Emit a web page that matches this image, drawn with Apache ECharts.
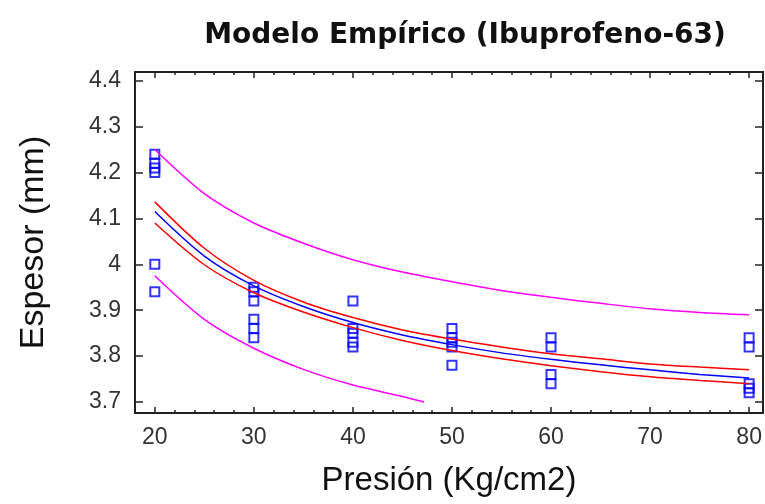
<!DOCTYPE html>
<html>
<head>
<meta charset="utf-8">
<script src="https://cdn.jsdelivr.net/npm/echarts@6/dist/echarts.min.js"></script>
<style>
  html, body { margin: 0; background: #fff; }
  #chart { width: 765px; height: 504px; }
</style>
</head>
<body>
<div id="chart"></div>
<script>
// ticks
const presionTicks = [20, 30, 40, 50, 60, 70, 80];
const presionMinor = [22, 24, 26, 28, 32, 34, 36, 38, 42, 44, 46, 48, 52, 54, 56, 58, 62, 64, 66, 68, 72, 74, 76, 78];
const espesorTicks = [3.7, 3.8, 3.9, 4.0, 4.1, 4.2, 4.3, 4.4];

// observaciones
const obsPresion = [20, 30, 40, 50, 60, 80];
const obsEspesor = [
  [4.24, 4.22, 4.21, 4.20, 4.00, 3.94],
  [3.95, 3.94, 3.92, 3.88, 3.86, 3.84],
  [3.92, 3.86, 3.85, 3.83, 3.82],
  [3.86, 3.84, 3.83, 3.82, 3.78],
  [3.84, 3.82, 3.76, 3.74],
  [3.84, 3.82, 3.74, 3.73, 3.72]
];

// curvas
const curvaX   = [20, 25, 30, 35, 40, 45, 50, 55, 60, 65, 70, 75, 80];
const ajuste   = [4.115, 4.018, 3.953, 3.908, 3.873, 3.846, 3.825, 3.807, 3.793, 3.781, 3.77, 3.76, 3.752];
const confSup  = [4.136, 4.035, 3.965, 3.918, 3.884, 3.857, 3.837, 3.82, 3.805, 3.794, 3.783, 3.776, 3.77];
const confInf  = [4.09, 3.999, 3.938, 3.896, 3.862, 3.834, 3.812, 3.794, 3.779, 3.766, 3.755, 3.747, 3.74];
const predSup  = [4.25, 4.154, 4.09, 4.046, 4.01, 3.983, 3.962, 3.943, 3.928, 3.915, 3.903, 3.895, 3.89];
const predInfX = [20, 25, 30, 35, 40, 45, 47.2];
const predInf  = [3.975, 3.88, 3.817, 3.771, 3.737, 3.712, 3.70];

const puntos = [];
obsPresion.forEach((p, i) => obsEspesor[i].forEach(v => puntos.push([p, v])));
const pares = (xs, ys) => xs.map((x, i) => [x, ys[i]]);

const chart = echarts.init(document.getElementById('chart'));
const lineaEje = {lineStyle: {color: '#222', width: 2}};
const tickFont = {fontFamily: 'Liberation Sans', fontSize: 23, color: '#333'};

const xBase = {
  type: 'value', min: 18, max: 81.4,
  splitLine: {show: false},
};
const yBase = {
  type: 'value', min: 3.676, max: 4.419,
  splitLine: {show: false},
};

const linea = (name, xs, ys, color) => ({
  name, type: 'line', data: pares(xs, ys),
  showSymbol: false, smooth: 0.3, silent: true,
  lineStyle: {color, width: 1.5},
  clip: true,
});

chart.setOption({
  animation: false,
  title: {
    text: 'Modelo Empírico (Ibuprofeno-63)',
    left: 460, top: 17, textAlign: 'center',
    textStyle: {fontFamily: 'DejaVu Sans', fontWeight: 'bold', fontSize: 28, color: '#111'}
  },
  grid: {left: 135, right: 2, top: 72, bottom: 91},
  xAxis: [
    Object.assign({}, xBase, {
      position: 'bottom',
      name: 'Presión (Kg/cm2)', nameLocation: 'middle', nameGap: 51,
      nameTextStyle: {fontFamily: 'Liberation Sans', fontSize: 33, color: '#111'},
      axisLine: lineaEje,
      axisTick: {inside: true, length: 6, customValues: presionTicks, lineStyle: {color: '#222', width: 1.5}},
      axisLabel: Object.assign({margin: 13, customValues: presionTicks}, tickFont),
    }),
    Object.assign({}, xBase, {
      position: 'bottom',
      axisLine: {show: false},
      axisTick: {inside: true, length: 3, customValues: presionMinor, lineStyle: {color: '#222', width: 1.5}},
      axisLabel: {show: false},
    }),
    Object.assign({}, xBase, {
      position: 'top',
      axisLine: lineaEje,
      axisTick: {inside: true, length: 6, customValues: presionTicks, lineStyle: {color: '#222', width: 1.5}},
      axisLabel: {show: false},
    }),
    Object.assign({}, xBase, {
      position: 'top',
      axisLine: {show: false},
      axisTick: {inside: true, length: 3, customValues: presionMinor, lineStyle: {color: '#222', width: 1.5}},
      axisLabel: {show: false},
    }),
  ],
  yAxis: [
    Object.assign({}, yBase, {
      position: 'left',
      name: 'Espesor (mm)', nameLocation: 'middle', nameGap: 84,
      nameTextStyle: {fontFamily: 'Liberation Sans', fontSize: 34, color: '#111'},
      axisLine: lineaEje,
      axisTick: {inside: true, length: 8, customValues: espesorTicks, lineStyle: {color: '#222', width: 1.5}},
      axisLabel: Object.assign({margin: 14, customValues: espesorTicks,
        formatter: v => String(Math.round(v * 10) / 10)}, tickFont),
    }),
    Object.assign({}, yBase, {
      position: 'right',
      axisLine: lineaEje,
      axisTick: {inside: true, length: 8, customValues: espesorTicks, lineStyle: {color: '#222', width: 1.5}},
      axisLabel: {show: false},
    }),
  ],
  series: [
    linea('Pred sup', curvaX, predSup, '#ff00ff'),
    linea('Pred inf', predInfX, predInf, '#ff00ff'),
    linea('Conf sup', curvaX, confSup, '#ff0000'),
    linea('Conf inf', curvaX, confInf, '#ff0000'),
    linea('Ajuste', curvaX, ajuste, '#0000ff'),
    {
      name: 'Observado', type: 'scatter', data: puntos,
      symbol: 'rect', symbolSize: 9,
      itemStyle: {color: 'rgba(255,255,255,0)', borderColor: '#0000ff', borderWidth: 2},
    },
  ],
});
</script>
</body>
</html>
